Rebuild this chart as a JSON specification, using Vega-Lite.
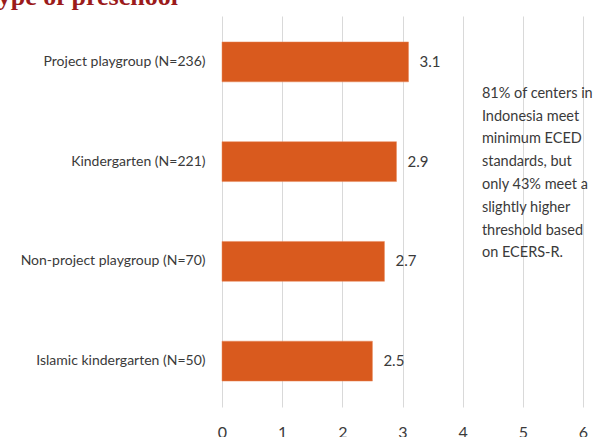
{
  "$schema": "https://vega.github.io/schema/vega-lite/v6.json",
  "width": 361,
  "height": 391,
  "autosize": {"type": "none"},
  "padding": {"left": 222, "top": 16, "right": 22, "bottom": 30},
  "background": "#ffffff",
  "title": {
    "text": "type of preschool",
    "anchor": "start",
    "frame": "bounds",
    "dx": -31,
    "dy": -2,
    "font": "Liberation Serif",
    "fontWeight": "bold",
    "fontSize": 26,
    "color": "#9B1B1B"
  },
  "config": {
    "view": {"stroke": null},
    "font": "Lato"
  },
  "data": {
    "values": [
      {"category": "Project playgroup (N=236)", "score": 3.1},
      {"category": "Kindergarten (N=221)", "score": 2.9},
      {"category": "Non-project playgroup (N=70)", "score": 2.7},
      {"category": "Islamic kindergarten (N=50)", "score": 2.5}
    ]
  },
  "encoding": {
    "y": {
      "field": "category",
      "type": "nominal",
      "sort": null,
      "title": null,
      "scale": {"paddingInner": 0.6, "paddingOuter": 0.26},
      "axis": {
        "domain": false,
        "ticks": false,
        "grid": false,
        "labelPadding": 17,
        "labelFontSize": 14,
        "labelColor": "#3a3a3a",
        "labelFont": "Lato",
        "labelLimit": 300
      }
    },
    "x": {
      "field": "score",
      "type": "quantitative",
      "title": null,
      "scale": {"domain": [0, 6], "nice": false},
      "axis": {
        "values": [0, 1, 2, 3, 4, 5, 6],
        "domain": false,
        "ticks": false,
        "grid": true,
        "gridColor": "#D9D9D9",
        "gridWidth": 1,
        "labelPadding": 17,
        "labelFontSize": 16,
        "labelColor": "#3a3a3a",
        "labelFont": "Lato",
        "labelFlush": false
      }
    }
  },
  "layer": [
    {
      "mark": {"type": "bar", "color": "#D95A1E", "stroke": "#E8885A", "strokeWidth": 0.5}
    },
    {
      "mark": {
        "type": "text",
        "align": "left",
        "baseline": "middle",
        "dx": 11,
        "fontSize": 15,
        "color": "#3a3a3a",
        "font": "Lato"
      },
      "encoding": {
        "text": {"field": "score", "type": "quantitative", "format": ".1f"}
      }
    },
    {
      "data": {
        "values": [
          {"category": "Project playgroup (N=236)", "pos": 4.32, "note": "81% of centers in\nIndonesia meet\nminimum ECED\nstandards, but\nonly 43% meet a\nslightly higher\nthreshold based\non ECERS-R."}
        ]
      },
      "mark": {
        "type": "text",
        "align": "left",
        "baseline": "top",
        "dy": 25,
        "lineBreak": "\n",
        "lineHeight": 22.8,
        "fontSize": 14.5,
        "color": "#3a3a3a",
        "font": "Lato"
      },
      "encoding": {
        "x": {"field": "pos", "type": "quantitative"},
        "y": {"field": "category", "type": "nominal", "sort": null},
        "text": {"field": "note", "type": "nominal"}
      }
    }
  ]
}
